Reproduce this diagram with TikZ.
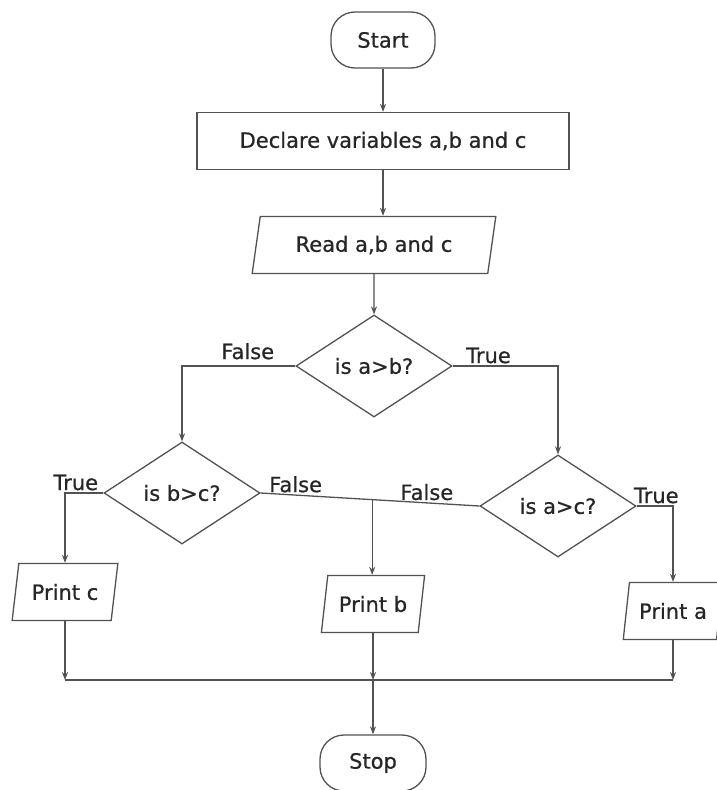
\documentclass[tikz,border=0pt]{standalone}
\usepackage{fontspec}
\setmainfont{DejaVu Sans}[BoldFont={DejaVu Sans},BoldFeatures={FakeBold=0.7}]
\usepackage{tikz}
\usetikzlibrary{positioning,arrows.meta,shapes.geometric}

\begin{document}
\begin{tikzpicture}[x=1pt,y=-1pt,->,>={Stealth[length=8pt,width=6pt]},line width=1.3pt,draw=black!68]
  \tikzstyle{every node}=[font=\fontsize{21}{25}\selectfont\bfseries,text=black!85]
  \tikzstyle{terminal}=[draw,rectangle,rounded corners=24pt,minimum width=104pt,minimum height=56pt]
  \tikzstyle{process}=[draw,rectangle,minimum width=372pt,minimum height=57pt]
  \tikzstyle{io}=[draw,trapezium,trapezium left angle=77,trapezium right angle=103,
                  trapezium stretches=true,minimum height=57pt]
  \tikzstyle{decision}=[draw,diamond,minimum width=156pt,minimum height=102pt,inner sep=0pt]
  \tikzstyle{lbl}=[above,inner sep=2pt,draw=none]

  \useasboundingbox (0,0) rectangle (717,790);

  \node[terminal] (S)  at (383,40)  {Start};
  \node[process]  (V)  at (383,141) {Declare variables a,b and c};
  \node[io,minimum width=244pt] (R) at (374,245) {Read a,b and c};
  \node[decision] (AB) at (374,366) {is a>b?};
  \node[decision] (BC) at (182,493) {is b>c?};
  \node[decision] (AC) at (558,506) {is a>c?};
  \node[io,minimum width=106pt] (PC) at (65,592)  {Print c};
  \node[io,minimum width=104pt] (PB) at (373,604) {Print b};
  \node[io,minimum width=100pt] (PA) at (673,611) {Print a};
  \node[terminal,minimum width=106pt] (E) at (373,763) {Stop};
  \coordinate (M) at (373,680);

  \draw (S) -- (V);
  \draw (V.south) -- (V.south |- R.north);
  \draw (R) -- (AB);
  \draw (AB.west) -| node[lbl,pos=0.21,yshift=4pt] {False} (BC.north);
  \draw (AB.east) -| node[lbl,pos=0.17] {True} (AC.north);
  \draw (BC.west) -| node[lbl,pos=0.36] {True} (PC.north);
  \draw[-] (BC.east) -- node[lbl,pos=0.16] {False} coordinate[pos=0.51] (J)
                        node[lbl,pos=0.76] {False} (AC.west);
  \draw (J) -- (J |- PB.north);
  \draw (AC.east) -| node[lbl,pos=0.27] {True} (PA.north);

  % join at the bottom
  \draw (PC.south) -- (PC.south |- M);
  \draw (PB.south) -- (PB.south |- M);
  \draw (PA.south) -- (PA.south |- M);
  \draw[-] (PC.south |- M) -- (PA.south |- M);
  \draw (M) -- (E);
\end{tikzpicture}
\end{document}
